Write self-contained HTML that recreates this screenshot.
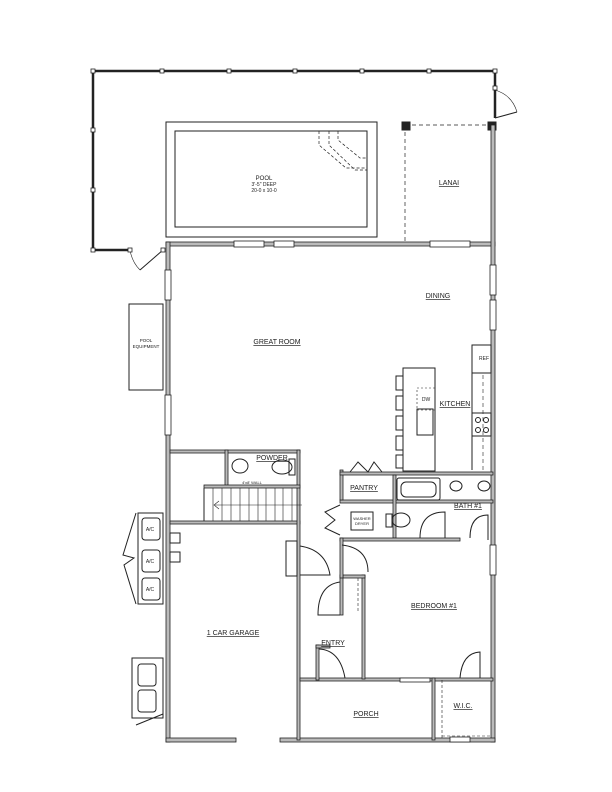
<!DOCTYPE html>
<html><head><style>html,body{margin:0;padding:0;background:#fff}svg{display:block}
text{font-family:"Liberation Sans",sans-serif;fill:#222}</style></head><body>
<svg width="612" height="792" viewBox="0 0 612 792" xmlns="http://www.w3.org/2000/svg">
<g fill="none" stroke="#222" stroke-width="1">
<path d="M93 71 H495 V118" stroke-width="2.5"/>
<path d="M93 71 V250 H130" stroke-width="2.5"/>
<path d="M495 118 L517 112" /><path d="M495 90 Q512 95 517 112" stroke-width="0.6"/>
<path d="M163 250 L140 270" /><path d="M130 250 Q132 262 140 270" stroke-width="0.6"/>
<g fill="#fff" stroke-width="0.8">
<rect x="91" y="69" width="4" height="4"/><rect x="160" y="69" width="4" height="4"/><rect x="227" y="69" width="4" height="4"/><rect x="293" y="69" width="4" height="4"/><rect x="360" y="69" width="4" height="4"/><rect x="427" y="69" width="4" height="4"/><rect x="493" y="69" width="4" height="4"/>
<rect x="91" y="128" width="4" height="4"/><rect x="91" y="188" width="4" height="4"/><rect x="91" y="248" width="4" height="4"/><rect x="128" y="248" width="4" height="4"/><rect x="161" y="248" width="4" height="4"/><rect x="493" y="86" width="4" height="4"/>
</g>
<rect x="166" y="122" width="211" height="115"/>
<rect x="175" y="131" width="192" height="96"/>
<path d="M319 131 V145 L346 168 H367 M329 131 V145 L355 170 H367 M338 131 V140 L360 158 H367" stroke-dasharray="3,2" stroke-width="0.7"/>
<path d="M405 125 H495 M405 125 V242" stroke-dasharray="4,3" stroke-width="0.7"/>
<rect x="402" y="122" width="8" height="8" fill="#222"/><rect x="488" y="122" width="8" height="8" fill="#222"/>
<g fill="#bbb" stroke="#222" stroke-width="0.8">
<rect x="166" y="242" width="329" height="4"/>
<rect x="166" y="242" width="4" height="500"/>
<rect x="491" y="125" width="4" height="617"/>
<rect x="166" y="738" width="70" height="4"/><rect x="280" y="738" width="215" height="4"/>
<rect x="170" y="450" width="130" height="3"/>
<rect x="170" y="521" width="130" height="3"/>
<rect x="297" y="450" width="3" height="290"/>
<rect x="225" y="450" width="3" height="36"/>
<rect x="204" y="485" width="96" height="3"/>
<rect x="300" y="678" width="193" height="3"/>
<rect x="432" y="678" width="3" height="62"/>
<rect x="362" y="575" width="3" height="104"/>
<rect x="340" y="575" width="25" height="3"/>
<rect x="340" y="575" width="3" height="40"/>
<rect x="340" y="500" width="153" height="3"/>
<rect x="340" y="470" width="3" height="30"/>
<rect x="340" y="472" width="153" height="3"/>
<rect x="393" y="475" width="3" height="63"/>
<rect x="340" y="538" width="120" height="3"/>
<rect x="340" y="538" width="3" height="40"/>
<rect x="316" y="645" width="3" height="35"/>
<rect x="316" y="645" width="14" height="3"/>
</g>
<g stroke-width="0.8" fill="#fff"><rect x="234" y="241" width="30" height="6"/><rect x="274" y="241" width="20" height="6"/><rect x="430" y="241" width="40" height="6"/><rect x="165" y="270" width="6" height="30"/><rect x="165" y="395" width="6" height="40"/><rect x="490" y="265" width="6" height="30"/><rect x="490" y="300" width="6" height="30"/><rect x="490" y="545" width="6" height="30"/><rect x="400" y="678" width="30" height="4"/><rect x="450" y="737" width="20" height="5"/></g>
<path d="M204 488 V521"/>
<path d="M213 488 V521 M222 488 V521 M231 488 V521 M240 488 V521 M249 488 V521 M258 488 V521 M266 488 V521 M275 488 V521 M283 488 V521 M292 488 V521" stroke-width="0.6"/>
<path d="M215 505 H302" stroke-width="0.6"/><path d="M219 501 L214 505 L219 509" stroke-width="0.6"/>
<ellipse cx="240" cy="466" rx="8" ry="7"/><ellipse cx="282" cy="467" rx="10" ry="7"/><rect x="289" y="459" width="6" height="16"/>
<rect x="286" y="541" width="11" height="35" fill="#fff"/><path d="M300 546 Q326 550 330 575 H300"/>
<path d="M340 582 Q318 585 318 615 H340"/><path d="M319 649 Q340 650 345 678"/>
<path d="M342 545 Q368 548 368 572" />
<path d="M358 578 V612" stroke-dasharray="3,2" stroke-width="0.6"/>
<rect x="397" y="478" width="43" height="22" rx="2"/><rect x="401" y="482" width="35" height="15" rx="5"/>
<ellipse cx="456" cy="486" rx="6" ry="5"/><ellipse cx="484" cy="486" rx="6" ry="5"/>
<ellipse cx="401" cy="520" rx="9" ry="7"/><rect x="386" y="514" width="6" height="13"/>
<rect x="351" y="512" width="22" height="18"/>
<path d="M420 538 Q420 512 445 512 V538"/><path d="M470 538 Q470 515 488 515 V540"/>
<path d="M350 472 L358 462 L368 472 L374 462 L382 472"/><path d="M340 505 L325 512 L335 520 L325 528 L340 535"/>
<path d="M460 678 Q462 653 480 652 V678"/>
<path d="M442 680 V738 M442 736 H491" stroke-dasharray="3,2" stroke-width="0.6"/>
<rect x="403" y="368" width="32" height="103"/>
<rect x="417" y="388" width="18" height="22" stroke-dasharray="2,2" stroke-width="0.6"/>
<rect x="417" y="409" width="16" height="26"/>
<rect x="472" y="345" width="19" height="28"/>
<path d="M472 373 V470" /><path d="M483 375 V470" stroke-dasharray="4,3" stroke-width="0.6"/>
<rect x="472" y="413" width="19" height="23"/>
<g><circle cx="478" cy="420" r="2.5"/><circle cx="486" cy="420" r="2.5"/><circle cx="478" cy="430" r="2.5"/><circle cx="486" cy="430" r="2.5"/></g>
<path d="M403 376 H396 V390 H403 M403 396 H396 V410 H403 M403 416 H396 V430 H403 M403 436 H396 V450 H403 M403 455 H396 V468 H403"/>
<rect x="129" y="304" width="34" height="86"/>
<path d="M138 513 H163 V604 H138 Z"/><path d="M136 513 L123 555 L134 558 L124 565 L136 604"/>
<rect x="142" y="518" width="18" height="22" rx="3"/><rect x="142" y="550" width="18" height="22" rx="3"/><rect x="142" y="578" width="18" height="22" rx="3"/>
<rect x="170" y="533" width="10" height="10"/><rect x="170" y="552" width="10" height="10"/>
<rect x="132" y="658" width="31" height="60"/><rect x="138" y="664" width="18" height="22" rx="3"/><rect x="138" y="690" width="18" height="22" rx="3"/>
<path d="M136 725 L163 714"/>
</g>
<g font-size="7" text-anchor="middle">
<text x="264" y="180" font-size="6">POOL</text><text x="264" y="186" font-size="5">3'-5" DEEP</text><text x="264" y="192" font-size="5">20-0 x 10-0</text>
<text x="449" y="185" text-decoration="underline">LANAI</text>
<text x="438" y="298" text-decoration="underline">DINING</text>
<text x="277" y="344" text-decoration="underline">GREAT ROOM</text>
<text x="146" y="342" font-size="4.5">POOL</text><text x="146" y="348" font-size="4.5">EQUIPMENT</text>
<text x="484" y="360" font-size="5">REF</text>
<text x="426" y="401" font-size="5">DW</text>
<text x="455" y="406" text-decoration="underline">KITCHEN</text>
<text x="272" y="460" text-decoration="underline">POWDER</text>
<text x="252" y="484" font-size="4">4'x8' WALL</text>
<text x="364" y="490" text-decoration="underline">PANTRY</text>
<text x="468" y="508" text-decoration="underline">BATH #1</text>
<text x="362" y="520" font-size="4">WASHER</text><text x="362" y="525" font-size="4">DRYER</text>
<text x="434" y="608" text-decoration="underline">BEDROOM #1</text>
<text x="233" y="635" text-decoration="underline">1 CAR GARAGE</text>
<text x="333" y="645" text-decoration="underline">ENTRY</text>
<text x="366" y="716" text-decoration="underline">PORCH</text>
<text x="463" y="708" text-decoration="underline">W.I.C.</text>
<text x="150" y="531" font-size="5">A/C</text><text x="150" y="563" font-size="5">A/C</text><text x="150" y="591" font-size="5">A/C</text>
</g>
</svg>
</body></html>
